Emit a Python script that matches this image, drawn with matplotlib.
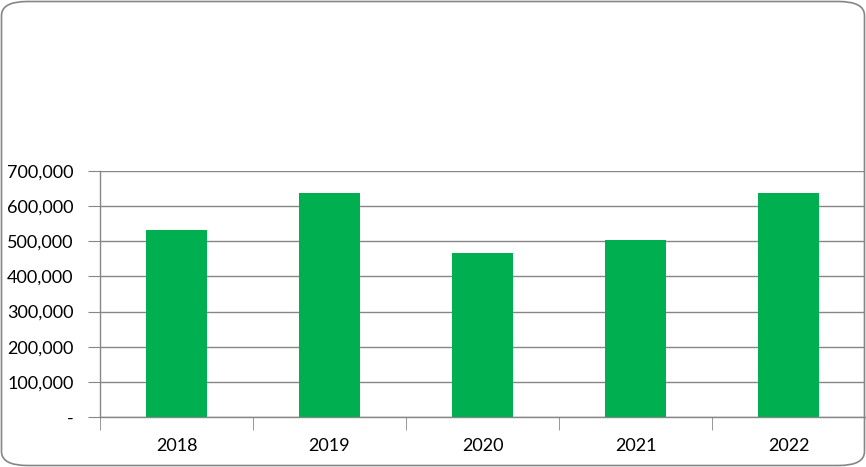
import matplotlib.pyplot as plt
from matplotlib.patches import FancyBboxPatch
from matplotlib.ticker import FuncFormatter

years = ["2018", "2019", "2020", "2021", "2022"]
values = [531700, 636700, 466400, 503300, 636700]

plt.rcParams["font.family"] = ["Lato", "DejaVu Sans"]

fig = plt.figure(figsize=(8.66, 4.67), dpi=100)

# rounded chart border (no fill so the axes stay visible)
border = FancyBboxPatch((1.5 / 866, 1.5 / 467), 863 / 866, 464 / 467,
                        boxstyle="round,pad=0,rounding_size=0.03",
                        transform=fig.transFigure, facecolor="none",
                        edgecolor="#868686", linewidth=1.2, zorder=5)
fig.patches.append(border)

ax = fig.add_axes([100 / 866, (467 - 417.3) / 467, 765 / 866, 246.6 / 467])
ax.set_facecolor("none")

x = list(range(len(years)))
ax.bar(x, values, width=0.4, color="#00B050", zorder=3)

ax.set_xlim(-0.5, len(years) - 0.5)
ax.set_ylim(0, 700000)
ax.set_yticks(range(0, 700001, 100000))
ax.yaxis.set_major_formatter(FuncFormatter(lambda v, p: "-" if v == 0 else f"{int(v):,}"))
ax.set_xticks(x)
ax.set_xticklabels(years)
ax.set_xticks([i + 0.5 for i in range(-1, len(years) - 1)], minor=True)

ax.grid(axis="y", color="#868686", linewidth=1, zorder=1)
for side in ["top", "right"]:
    ax.spines[side].set_visible(False)
for side in ["left", "bottom"]:
    ax.spines[side].set_color("#868686")
    ax.spines[side].set_linewidth(1)

ax.tick_params(axis="y", length=9, color="#868686", pad=10, labelsize=13, labelcolor="black")
ax.tick_params(axis="x", which="major", length=0, pad=15, labelsize=13, labelcolor="black")
ax.tick_params(axis="x", which="minor", length=9, color="#868686")

fig.savefig("out.png", dpi=100)
